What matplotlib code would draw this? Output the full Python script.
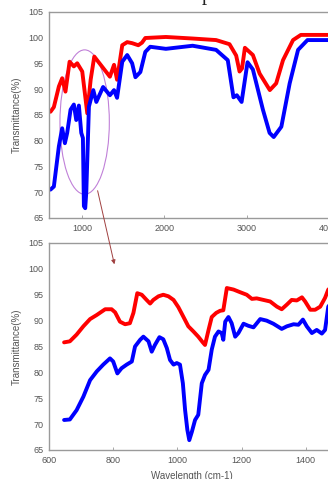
import matplotlib
matplotlib.use("Agg")
import matplotlib.pyplot as plt
from matplotlib.patches import Ellipse, FancyArrowPatch

# ---- data: full spectrum (top) ----
top_x = [618, 659, 720, 760, 800, 850, 902, 943, 1004, 1065, 1106, 1150, 1257, 1340, 1390, 1427,
         1490, 1550, 1610, 1685, 1730, 1770, 2020, 2345, 2630, 2793, 2874, 2915, 2945, 2980,
         3077, 3159, 3283, 3360, 3443, 3565, 3660, 4300]
top_red = [85.6, 86.5, 90.5, 92.1, 89.5, 95.3, 94.4, 95.0, 93.4, 85.3, 91.8, 96.3, 94.1, 92.4, 94.7, 91.8,
           98.5, 99.1, 98.9, 98.5, 99.0, 99.9, 100.1, 99.8, 99.5, 98.7, 96.5, 93.4, 94.0, 98.0,
           96.6, 93.0, 89.8, 91.1, 95.6, 99.5, 100.5, 100.5]
top_bx = [618, 659, 720, 760, 793, 821, 862, 902, 931, 963, 992, 1012, 1024, 1040, 1053, 1085, 1138,
          1175, 1257, 1340, 1390, 1427, 1490, 1550, 1610, 1650, 1710, 1770, 1830, 2020, 2345, 2630,
          2772, 2841, 2882, 2940, 3012, 3077, 3199, 3280, 3330, 3423, 3524, 3626, 3740, 4300]
top_blue = [70.5, 71.1, 78.9, 82.4, 79.5, 81.5, 86.0, 87.0, 84.0, 86.8, 81.5, 80.5, 67.3, 66.9, 70.0, 86.6, 89.8,
            87.5, 90.4, 88.8, 89.8, 88.3, 95.3, 96.6, 95.0, 92.3, 93.3, 97.2, 98.2, 97.8, 98.4, 97.6,
            95.6, 88.4, 88.8, 87.5, 95.2, 93.8, 86.0, 81.5, 80.7, 82.7, 91.1, 97.6, 99.5, 99.5]

# ---- data: zoomed region (bottom) ----
bot_rx = [647, 665, 686, 707, 728, 749, 775, 795, 806, 821, 837, 852, 863, 875, 889, 904, 915, 925,
          941, 956, 972, 988, 1003, 1019, 1034, 1050, 1065, 1079, 1086, 1097, 1107, 1121, 1133, 1143,
          1154, 1175, 1195, 1216, 1232, 1247, 1268, 1289, 1310, 1325, 1341, 1356, 1372, 1388, 1398,
          1414, 1429, 1445, 1460, 1470, 1490, 1520]
bot_red = [85.8, 86.0, 87.3, 88.9, 90.3, 91.1, 92.2, 92.2, 91.6, 89.8, 89.3, 89.5, 91.5, 95.3, 95.0, 94.0,
           93.3, 94.0, 94.7, 95.0, 94.7, 94.0, 92.6, 90.7, 88.9, 87.9, 86.9, 85.8, 85.3, 88.2, 90.7,
           91.5, 91.9, 92.0, 96.3, 96.0, 95.5, 95.0, 94.2, 94.3, 94.0, 93.7, 92.7, 92.2, 93.1, 94.0,
           93.9, 94.5, 93.7, 92.1, 92.1, 92.7, 94.4, 96.0, 97.0, 97.5]
bot_bx = [647, 665, 686, 707, 728, 749, 769, 790, 800, 813, 826, 842, 858, 868, 884, 894, 910, 920,
          930, 944, 956, 967, 977, 988, 998, 1008, 1017, 1024, 1031, 1037, 1045, 1055, 1065, 1076,
          1086, 1097, 1107, 1117, 1128, 1138, 1143, 1149, 1159, 1169, 1180, 1190, 1206, 1221, 1237,
          1258, 1278, 1299, 1325, 1341, 1362, 1377, 1391, 1403, 1419, 1434, 1450, 1460, 1470, 1490, 1520]
bot_blue = [70.8, 70.9, 72.7, 75.3, 78.5, 80.2, 81.5, 82.7, 82.1, 79.8, 80.8, 81.5, 82.1, 85.0, 86.3,
            86.9, 86.0, 84.0, 85.3, 86.8, 86.4, 84.7, 82.4, 81.5, 81.8, 81.5, 77.9, 72.7, 68.9, 66.9,
            68.5, 70.8, 71.8, 77.9, 79.5, 80.5, 84.4, 86.9, 87.9, 87.6, 86.3, 89.8, 90.7, 89.5, 86.9,
            87.6, 89.4, 89.0, 88.7, 90.3, 90.0, 89.4, 88.4, 88.9, 89.3, 89.2, 90.2, 88.9, 87.6, 88.2,
            87.5, 88.2, 92.7, 94.5, 95.5]

yticks = [65, 70, 75, 80, 85, 90, 95, 100, 105]
top_xticks = [1000, 2000, 3000, 4000]
bot_xticks = [600, 800, 1000, 1200, 1400, 1600]

RED = "#ff0000"
BLUE = "#0000ff"
GRAY = "#555555"
SPINE = "#9a9a9a"

W, H = 328, 479
fig = plt.figure(figsize=(W / 100, H / 100), dpi=100)
plt.rcParams['font.family'] = ['Liberation Sans', 'DejaVu Sans']

def px_axes(left, top, right, bottom):
    return [left / W, 1 - bottom / H, (right - left) / W, (bottom - top) / H]

ax1 = fig.add_axes(px_axes(49, 11.7, 370, 218))
ax2 = fig.add_axes(px_axes(49, 243, 370, 450))

for ax in (ax1, ax2):
    ax.set_ylim(65, 105)
    ax.set_yticks(yticks)
    ax.tick_params(axis='both', labelsize=6.5, colors=GRAY, direction='in', length=2, width=0.6,
                   color=SPINE)
    ax.tick_params(axis='y', length=0, pad=4)
    ax.tick_params(axis='x', pad=4)
    for s in ax.spines.values():
        s.set_color(SPINE)
        s.set_linewidth(1.0)
    ax.set_ylabel("Transmittance(%)", fontsize=7, color=GRAY, labelpad=5)

ax1.set_xlim(600, 4500)
ax1.set_xticks(top_xticks)
ax1.plot(top_x, top_red, color=RED, lw=2.8, solid_joinstyle='round', solid_capstyle='round')
ax1.plot(top_bx, top_blue, color=BLUE, lw=2.8, solid_joinstyle='round', solid_capstyle='round')
ax1.add_patch(Ellipse((1033, 83.6), 600, 28, fill=False, edgecolor='#c080d8', lw=0.8))

ax2.set_xlim(600, 1600)
ax2.set_xticks(bot_xticks)
ax2.plot(bot_rx, bot_red, color=RED, lw=2.8, solid_joinstyle='round', solid_capstyle='round')
ax2.plot(bot_bx, bot_blue, color=BLUE, lw=2.8, solid_joinstyle='round', solid_capstyle='round')

arrow = FancyArrowPatch((97 / W, 1 - 188 / H), (115 / W, 1 - 267 / H), transform=fig.transFigure,
                        arrowstyle='-|>', mutation_scale=6, color='#a04040', lw=0.7)
fig.add_artist(arrow)

fig.text(192 / W, 1 - 476 / H, "Wavelength (cm-1)", fontsize=7, color=GRAY, ha='center', va='center')
fig.text(207 / W, 1.0, "p", fontsize=15, family=['Liberation Serif', 'DejaVu Serif'], color='#222222',
         ha='center', va='baseline')

fig.savefig("out.png", dpi=100)
